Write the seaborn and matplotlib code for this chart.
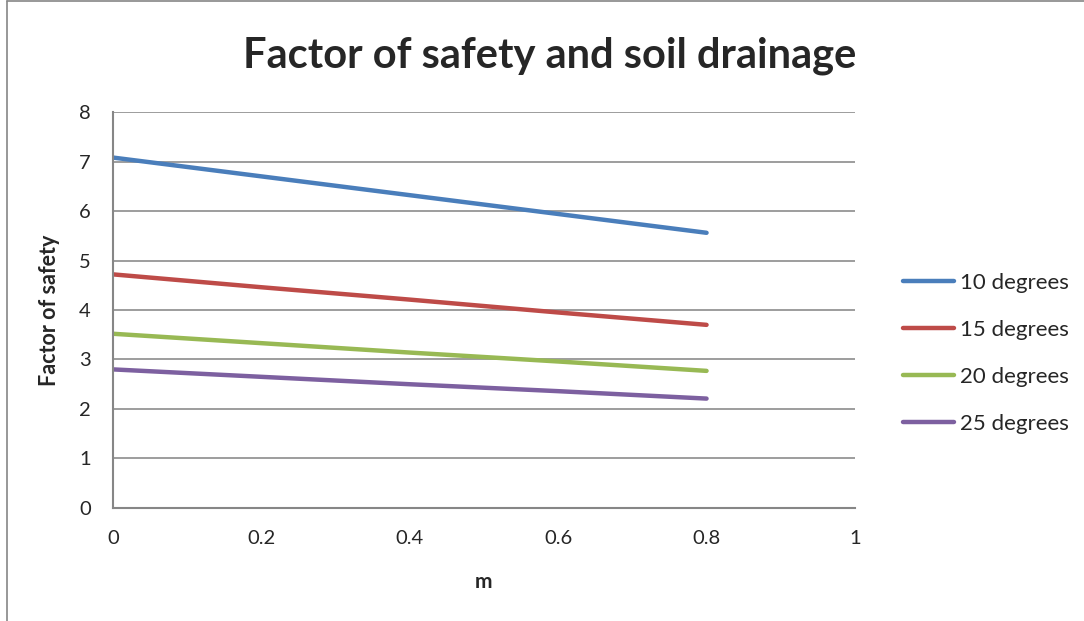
import numpy as np
import seaborn as sns
import pandas as pd
import matplotlib.pyplot as plt
from matplotlib.lines import Line2D

# drainage parameter m and factor of safety per slope angle
m_values = [0, 0.2, 0.4, 0.6, 0.8]
fos_10 = [7.08, 6.70, 6.32, 5.94, 5.56]
fos_15 = [4.72, 4.46, 4.21, 3.95, 3.70]
fos_20 = [3.52, 3.33, 3.14, 2.96, 2.77]
fos_25 = [2.80, 2.65, 2.50, 2.36, 2.21]
series_names = ['10 degrees', '15 degrees', '20 degrees', '25 degrees']
colors = ['#4A7EBB', '#BE4B48', '#98B954', '#7D60A0']

df = pd.DataFrame({
    'm': m_values * 4,
    'Factor of safety': fos_10 + fos_15 + fos_20 + fos_25,
    'series': np.repeat(series_names, len(m_values)),
})

sns.set_style('white')
plt.rcParams['font.family'] = ['Lato', 'DejaVu Sans']

fig = plt.figure(figsize=(10.84, 6.21), dpi=100)
ax = fig.add_axes([0.1042, 0.182, 0.6845, 0.6376])

sns.lineplot(data=df, x='m', y='Factor of safety', hue='series',
             palette=colors, linewidth=3.2, ax=ax, solid_capstyle='round')

ax.set_xlim(0, 1)
ax.set_ylim(0, 8)
ax.set_xticks([0, 0.2, 0.4, 0.6, 0.8, 1])
ax.set_xticklabels(['0', '0.2', '0.4', '0.6', '0.8', '1'])
ax.set_yticks(range(0, 9))
ax.grid(axis='y', color='#8c8c8c', linewidth=1.2)
ax.set_axisbelow(True)
for s in ['top', 'right']:
    ax.spines[s].set_visible(False)
for s in ['left', 'bottom']:
    ax.spines[s].set_color('#868686')
    ax.spines[s].set_linewidth(1.5)
ax.tick_params(length=0, labelsize=14.5)
ax.tick_params(axis='y', pad=16)
ax.tick_params(axis='x', pad=16)

ax.set_xlabel('m', fontsize=15, fontweight='bold', labelpad=18)
ax.set_ylabel('Factor of safety', fontsize=15.5, fontweight='bold', labelpad=14)
ax.set_title('Factor of safety and soil drainage', fontsize=30, fontweight='bold', pad=32, x=0.589)

ax.legend(loc='center left', bbox_to_anchor=(1.038, 0.39), frameon=False,
          fontsize=16, handlelength=2.3, handletextpad=0.25, labelspacing=1.22)

# outer chart border (left and top visible)
fig.add_artist(Line2D([7 / 1084, 7 / 1084], [0, 1 - 1 / 621], transform=fig.transFigure,
                      color='#868686', linewidth=1.2))
fig.add_artist(Line2D([7 / 1084, 1], [1 - 1 / 621, 1 - 1 / 621], transform=fig.transFigure,
                      color='#868686', linewidth=1.2))

plt.savefig('out.png', dpi=100)
